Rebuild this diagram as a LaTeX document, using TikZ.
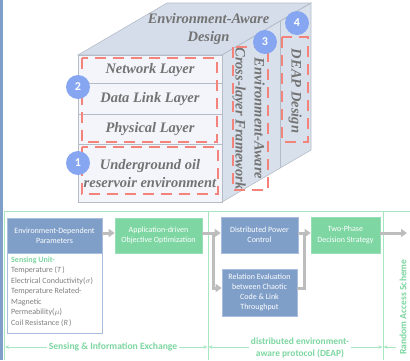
\documentclass[tikz,border=0pt]{standalone}
\usepackage{fontspec}
\setmainfont{Liberation Serif}
\newfontfamily\boxfont{Carlito}
\usetikzlibrary{arrows.meta}

\definecolor{facefront}{HTML}{F3F5FA}
\definecolor{facetop}{HTML}{D5DDEA}
\definecolor{faceside}{HTML}{D8E0EB}
\definecolor{cubeedge}{HTML}{B4BCC8}
\definecolor{layertext}{HTML}{737373}
\definecolor{dashred}{HTML}{F4837C}
\definecolor{badge}{HTML}{87A6F2}
\definecolor{bluebox}{HTML}{7F9FC9}
\definecolor{blueedge}{HTML}{A9BEDD}
\definecolor{greenbox}{HTML}{7ED6A2}
\definecolor{greenline}{HTML}{A6E6C0}
\definecolor{greentext}{HTML}{7DD6A1}
\definecolor{flowgray}{HTML}{BDBDBD}
\definecolor{graytext}{HTML}{7F7F7F}

\tikzset{
  edge/.style={draw=cubeedge, line width=0.6pt},
  layer/.style={font=\fontsize{14.5}{18}\selectfont\bfseries\itshape, text=layertext, inner sep=0pt},
  reddash/.style={draw=dashred, line width=2.2pt, dash pattern=on 11pt off 7pt},
  numbadge/.style={circle, fill=badge, text=white, minimum size=24pt, inner sep=0pt,
    font=\boxfont\fontsize{12}{12}\selectfont\bfseries},
  bbox/.style={fill=bluebox, draw=blueedge, line width=0.6pt, text=white, align=center,
    font=\boxfont\fontsize{8}{10.2}\selectfont, inner sep=0pt},
  gbox/.style={fill=greenbox, draw=greenbox!80!white, line width=0.6pt, text=white, align=center,
    font=\boxfont\fontsize{8}{10.2}\selectfont, inner sep=0pt},
  flow/.style={draw=flowgray, line width=3pt, -{Triangle[length=6pt,width=8pt]}},
  flowline/.style={draw=flowgray, line width=3pt},
  frame/.style={draw=greenline, line width=0.9pt},
  span/.style={draw=greenline, line width=0.9pt, {Stealth[length=4pt,width=3.5pt]}-{Stealth[length=4pt,width=3.5pt]}},
  spanlab/.style={fill=white, text=greentext, align=center, inner sep=2pt,
    font=\boxfont\fontsize{9.6}{12}\selectfont\bfseries},
}

\begin{document}
\begin{tikzpicture}[x=1pt,y=-1pt]
\useasboundingbox (0,0) rectangle (410,360);

% ---------- cube ----------
\coordinate (fTL) at (78,55);  \coordinate (fTR) at (222,55);
\coordinate (fBR) at (222,202); \coordinate (fBL) at (78,202);
\coordinate (bTL) at (167,3);  \coordinate (bTR) at (311,3);
\coordinate (bBR) at (311,150);
\coordinate (sT) at (280,21);  \coordinate (sB) at (280,168);

\fill[facetop] (fTL) -- (bTL) -- (bTR) -- (fTR) -- cycle;
\fill[faceside] (fTR) -- (bTR) -- (bBR) -- (fBR) -- cycle;
\fill[facefront] (fTL) rectangle (fBR);
\draw[edge] (fTL) -- (bTL) -- (bTR) -- (fTR) -- cycle;
\draw[edge] (fTR) -- (bTR) -- (bBR) -- (fBR);
\draw[edge] (fTL) rectangle (fBR);
\draw[edge] (sT) -- (sB);
\coordinate (r1L) at (78,83);  \coordinate (r1R) at (222,83);
\coordinate (r2L) at (78,114); \coordinate (r2R) at (222,114);
\coordinate (r3L) at (78,144); \coordinate (r3R) at (222,144);
\draw[edge] (r1L) -- (r1R) (r2L) -- (r2R) (r3L) -- (r3R);

% top face caption
\node[layer, align=center] (topcap) at (208.5,29.5) {Environment-Aware\\Design};

% front face layers
\node[layer] (net) at (150,70) {Network Layer};
\node[layer] (dll) at (150,99.5) {Data Link Layer};
\node[layer] (phy) at (150,129) {Physical Layer};
\node[layer, align=center] (oil) at (150,174) {Underground oil\\reservoir environment};

% side face captions
\node[layer, align=center, rotate=-90, font=\fontsize{14.5}{19}\selectfont\bfseries\itshape] (cross) at (248.5,118.5)
  {Environment-Aware\\Cross-layer Framework};
\node[layer, rotate=-90] (deap) at (295,91) {DEAP Design};

% dashed groupings
\draw[reddash] (82,58) rectangle (217,142);
\draw[reddash] (82,147) rectangle (218,194);
\draw[reddash] (233,47) rectangle (268,190);
\draw[reddash] (282,37) rectangle (308,142);

% number badges
\node[numbadge] (n2) at (78,87) {2};
\node[numbadge] (n1) at (78,163) {1};
\node[numbadge] (n3) at (265,42) {3};
\node[numbadge] (n4) at (297,23) {4};

% ---------- lower framework ----------
\fill[bluebox] (0,0) rectangle (2.6,360);
\coordinate (fr0) at (4,211);   \coordinate (fr1) at (410,211);
\coordinate (v1t) at (4,211);   \coordinate (v1b) at (4,360);
\coordinate (v2t) at (208,211); \coordinate (v2b) at (208,360);
\coordinate (v3t) at (383,211); \coordinate (v3b) at (383,360);
\draw[frame] (fr0) -- (fr1);
\draw[frame] (v1t) -- (v1b) (v2t) -- (v2b) (v3t) -- (v3b);

% blocks
\node[bbox, minimum width=95pt, minimum height=35pt] (edp) at (54.5,235.5)
  {Environment-Dependent\\Parameters};
\node[draw=blueedge, line width=0.6pt, fill=white, minimum width=95pt, minimum height=80pt, inner sep=0pt]
  (sens) at (54.5,293) {};
\node[anchor=north west, align=left, inner sep=0pt, text=graytext,
      font=\boxfont\fontsize{8}{10.45}\selectfont] (senstext) at (11,256.5)
  {\textcolor{greentext}{\bfseries Sensing Unit-}\\
   Temperature (\textit{T\,})\\
   Electrical Conductivity($\sigma$)\\
   Temperature Related-\\
   Magnetic\\
   Permeability($\mu$)\\
   Coil Resistance (\textit{R\,})};

\node[gbox, minimum width=87pt, minimum height=35pt] (aoo) at (158.5,235.5)
  {Application-driven\\Objective Optimization};
\node[bbox, minimum width=77pt, minimum height=36pt] (dpc) at (259.5,235)
  {Distributed Power\\Control};
\node[bbox, minimum width=75pt, minimum height=47pt] (rel) at (259.5,292.5)
  {Relation Evaluation\\between Chaotic\\Code \& Link\\Throughput};
\node[gbox, minimum width=69pt, minimum height=36pt] (tps) at (345.5,235)
  {Two-Phase\\Decision Strategy};
\coordinate (outend) at (407,233);

% flows
\draw[flow] (edp.east |- 0,233) -- (aoo.west |- 0,233);
\draw[flow] (aoo.east |- 0,233) -- (dpc.west |- 0,233);
\coordinate (brTop) at (213,233);
\coordinate (brBot) at (213,288);
\draw[flowline] (brTop) -- (brBot);
\draw[flow] ([xshift=-1.5pt]brBot) -- (rel.west |- brBot);
\draw[flow] (dpc.east |- 0,233) -- (tps.west |- 0,233);
\coordinate (mrg) at (304,288);
\draw[flowline] (rel.east |- mrg) -- ([xshift=1.5pt]mrg) ;
\draw[flowline] (mrg) -- (304,233);
\draw[flow] (tps.east |- outend) -- (outend);

% spans
\coordinate (s1a) at (5,347);   \coordinate (s1b) at (207.4,347);
\coordinate (s2a) at (208.6,347); \coordinate (s2b) at (382.4,347);
\coordinate (s3a) at (383.6,347); \coordinate (s3b) at (396,347);
\draw[span] (s1a) -- (s1b);
\draw[span] (s2a) -- (s2b);
\draw[draw=greenline, line width=0.9pt, {Stealth[length=4pt,width=3.5pt]}-] (s3a) -- (s3b);
\node[spanlab] (lab1) at (113,347) {Sensing \& Information Exchange};
\node[spanlab, font=\boxfont\fontsize{9.4}{12}\selectfont\bfseries] (lab2) at (300,348) {distributed environment-\\aware protocol (DEAP)};
\node[spanlab, rotate=90, inner sep=1pt] (lab3) at (403,307) {Random Access Scheme};
\end{tikzpicture}
\end{document}
